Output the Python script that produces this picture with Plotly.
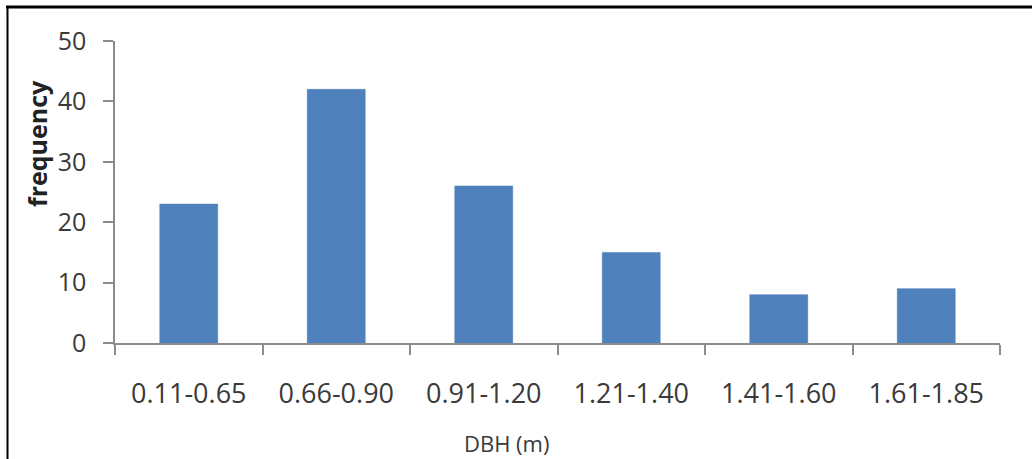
import plotly.graph_objects as go

categories = ["0.11-0.65", "0.66-0.90", "0.91-1.20", "1.21-1.40", "1.41-1.60", "1.61-1.85"]
frequency = [23, 42, 26, 15, 8, 9]
y_ticks = [0, 10, 20, 30, 40, 50]

W, H = 1032, 459
L, R, T, B = 115, 32, 41, 116
pw, ph = W - L - R, H - T - B

def px(x):
    return (x - L) / pw

def py(y):
    return (H - B - y) / ph

font = "Open Sans, Liberation Sans, sans-serif"
axis_col = "#8c8c8c"
txt_col = "#3a3a3a"

fig = go.Figure(go.Bar(
    x=categories, y=frequency,
    marker=dict(color="#4f81bd", line=dict(color="#4a7ab5", width=0.5)),
))

fig.update_layout(
    width=W, height=H,
    margin=dict(l=L, r=R, t=T, b=B),
    paper_bgcolor="white", plot_bgcolor="white",
    bargap=0.607,
    showlegend=False,
    font=dict(family=font, color=txt_col, size=25),
    xaxis=dict(
        type="category", showgrid=False, showline=True, linecolor=axis_col, linewidth=1.5,
        ticks="outside", tickson="boundaries", ticklen=10, tickcolor=axis_col, tickwidth=1.5,
        tickfont=dict(size=27, color=txt_col), ticklabelstandoff=26,
    ),
    yaxis=dict(
        range=[0, 50], tickvals=y_ticks, showgrid=False, zeroline=False,
        showline=True, linecolor=axis_col, linewidth=1.5,
        ticks="outside", ticklen=10, tickcolor=axis_col, tickwidth=1.5,
        tickfont=dict(size=25, color=txt_col), ticklabelstandoff=12,
    ),
    annotations=[
        dict(text="<b>frequency</b>", textangle=-90, x=px(37), y=py(144), xref="paper", yref="paper",
             showarrow=False, xanchor="center", yanchor="middle",
             font=dict(family=font, size=25, color="#222222")),
        dict(text="DBH (m)", x=px(506), y=py(443), xref="paper", yref="paper",
             showarrow=False, xanchor="center", yanchor="middle",
             font=dict(family=font, size=22, color=txt_col)),
    ],
    shapes=[
        dict(type="line", xref="paper", yref="paper", x0=px(6), x1=px(1032), y0=py(7), y1=py(7),
             line=dict(color="black", width=3)),
        dict(type="line", xref="paper", yref="paper", x0=px(7.5), x1=px(7.5), y0=py(6), y1=py(459),
             line=dict(color="black", width=2)),
    ],
)

fig.write_html(
    "out.html",
    config={"displayModeBar": False},
    post_script="document.body.style.margin='0';document.body.style.overflow='hidden';",
)
